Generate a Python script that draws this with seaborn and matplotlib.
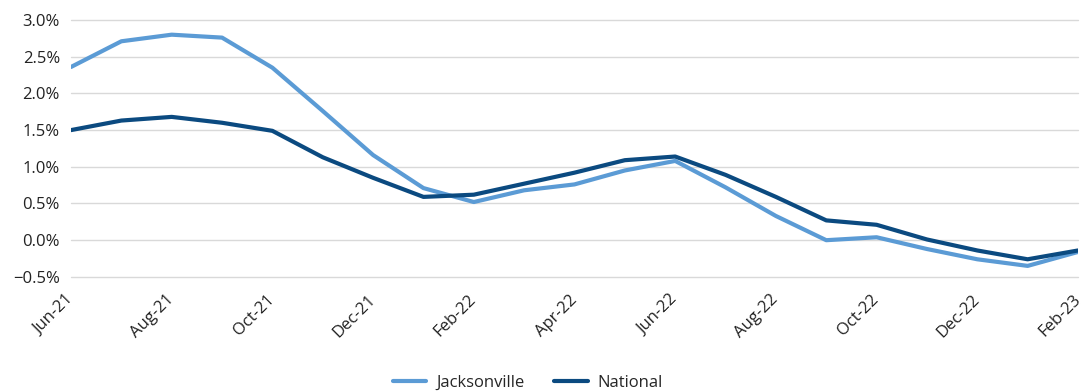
import pandas as pd
import seaborn as sns
import matplotlib.pyplot as plt
from matplotlib.ticker import PercentFormatter

# data (monthly, Jun-21 .. Feb-23)
months = ["Jun-21", "Jul-21", "Aug-21", "Sep-21", "Oct-21", "Nov-21", "Dec-21",
          "Jan-22", "Feb-22", "Mar-22", "Apr-22", "May-22", "Jun-22", "Jul-22",
          "Aug-22", "Sep-22", "Oct-22", "Nov-22", "Dec-22", "Jan-23", "Feb-23"]
jacksonville = [2.36, 2.71, 2.80, 2.76, 2.35, 1.76, 1.16, 0.71, 0.52, 0.68, 0.76,
                0.95, 1.08, 0.72, 0.33, 0.00, 0.04, -0.12, -0.26, -0.35, -0.16]
national = [1.50, 1.63, 1.68, 1.60, 1.49, 1.13, 0.85, 0.59, 0.62, 0.77, 0.92,
            1.09, 1.14, 0.89, 0.59, 0.27, 0.21, 0.01, -0.14, -0.26, -0.14]

df = pd.DataFrame({
    "month": list(range(len(months))) * 2,
    "value": jacksonville + national,
    "series": ["Jacksonville"] * len(months) + ["National"] * len(months),
})

sns.set_style("white")
plt.rcParams["font.family"] = ["Open Sans", "DejaVu Sans"]

fig = plt.figure(figsize=(10.85, 3.92), dpi=100)
ax = fig.add_axes([71 / 1085, 1 - 278 / 392, (1078 - 71) / 1085, (278 - 20) / 392])

sns.lineplot(data=df, x="month", y="value", hue="series",
             palette={"Jacksonville": "#5B9BD5", "National": "#0B4A80"},
             linewidth=3, ax=ax, legend=True)

ax.set_xlim(0, len(months) - 1)
ax.set_ylim(-0.515, 3.0)
ax.set_yticks([-0.5, 0, 0.5, 1.0, 1.5, 2.0, 2.5, 3.0])
ax.yaxis.set_major_formatter(PercentFormatter(decimals=1))
ax.set_xticks(list(range(0, len(months), 2)))
ax.set_xticklabels(months[::2], rotation=45, ha="right", va="center",
                   rotation_mode="anchor")
ax.tick_params(axis="both", labelsize=12, colors="#222222", length=0)
ax.tick_params(axis="x", pad=14)
ax.tick_params(axis="y", pad=8)
ax.grid(axis="y", color="#d9d9d9", linewidth=1, clip_on=False)
ax.set_axisbelow(True)
for s in ax.spines.values():
    s.set_visible(False)
ax.set_xlabel("")
ax.set_ylabel("")

leg = ax.legend(loc="center", bbox_to_anchor=(528 / 1085, 1 - 383 / 392),
                bbox_transform=fig.transFigure, ncol=2, frameon=False,
                fontsize=12, handlelength=2.0, handletextpad=0.6,
                columnspacing=1.8)

fig.savefig("out.png", dpi=100)
